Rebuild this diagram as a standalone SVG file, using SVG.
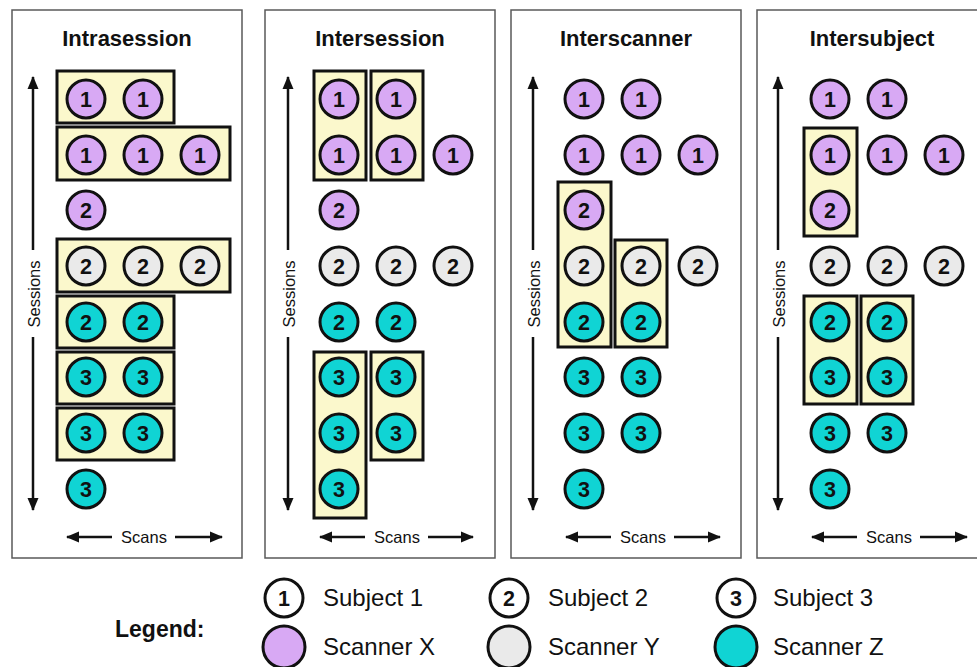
<svg xmlns="http://www.w3.org/2000/svg" width="977" height="667" viewBox="0 0 977 667">
<style>
.panel{fill:#fff;stroke:#595959;stroke-width:1.5}
.title{font-family:"Liberation Sans",Arial,sans-serif;font-weight:bold;font-size:22px;fill:#111;text-anchor:middle}
.box{fill:#FBF8CC;stroke:#111;stroke-width:3}
.c{stroke:#111;stroke-width:3}
.px{fill:#D8A9F4}
.py{fill:#EAEAEA}
.pz{fill:#10D4D4}
.pw{fill:#fff}
.n{font-family:"Liberation Sans",Arial,sans-serif;font-weight:bold;font-size:21.5px;fill:#111;text-anchor:middle}
.ax{stroke:#111;stroke-width:2.5;fill:none}
.axl{font-family:"Liberation Sans",Arial,sans-serif;font-size:16.5px;fill:#111;text-anchor:middle}
.lg{font-family:"Liberation Sans",Arial,sans-serif;font-size:24px;fill:#111}
.lgb{font-family:"Liberation Sans",Arial,sans-serif;font-weight:bold;font-size:23px;fill:#111}
</style>
<defs>
<marker id="ah" markerUnits="userSpaceOnUse" markerWidth="14" markerHeight="12" refX="12" refY="6" orient="auto">
<path d="M0,0.5 L13,6 L0,11.5 Z" fill="#111"/>
</marker>
<g id="P1"><circle r="19" class="c px"/><text y="7.5" class="n">1</text></g>
<g id="P2"><circle r="19" class="c px"/><text y="7.5" class="n">2</text></g>
<g id="G2"><circle r="19" class="c py"/><text y="7.5" class="n">2</text></g>
<g id="C2"><circle r="19" class="c pz"/><text y="7.5" class="n">2</text></g>
<g id="C3"><circle r="19" class="c pz"/><text y="7.5" class="n">3</text></g>
</defs>
<rect width="977" height="667" fill="#fff"/>

<!-- Panel 1: Intrasession -->
<g id="panel-intrasession">
<rect class="panel" x="12" y="10" width="230" height="548"/>
<text class="title" x="127" y="46">Intrasession</text>
<g id="p1-boxes">
<rect class="box" x="57" y="71" width="117" height="52"/>
<rect class="box" x="57" y="127" width="173" height="53"/>
<rect class="box" x="57" y="239" width="173" height="53"/>
<rect class="box" x="57" y="296" width="117" height="52"/>
<rect class="box" x="57" y="352" width="117" height="52"/>
<rect class="box" x="57" y="408" width="117" height="52"/>
</g>
<g id="p1-n1"><use href="#P1" x="86" y="99"/></g>
<g id="p1-n2"><use href="#P1" x="143" y="99"/></g>
<g id="p1-n3"><use href="#P1" x="86" y="155"/></g>
<g id="p1-n4"><use href="#P1" x="143" y="155"/></g>
<g id="p1-n5"><use href="#P1" x="200" y="155"/></g>
<g id="p1-n6"><use href="#P2" x="86" y="210"/></g>
<g id="p1-n7"><use href="#G2" x="86" y="266"/></g>
<g id="p1-n8"><use href="#G2" x="143" y="266"/></g>
<g id="p1-n9"><use href="#G2" x="200" y="266"/></g>
<g id="p1-n10"><use href="#C2" x="86" y="322"/></g>
<g id="p1-n11"><use href="#C2" x="143" y="322"/></g>
<g id="p1-n12"><use href="#C3" x="86" y="377"/></g>
<g id="p1-n13"><use href="#C3" x="143" y="377"/></g>
<g id="p1-n14"><use href="#C3" x="86" y="433"/></g>
<g id="p1-n15"><use href="#C3" x="143" y="433"/></g>
<g id="p1-n16"><use href="#C3" x="86" y="489"/></g>
</g>

<!-- Panel 2: Intersession -->
<g id="panel-intersession">
<rect class="panel" x="265" y="10" width="230" height="548"/>
<text class="title" x="380" y="46">Intersession</text>
<g id="p2-boxes">
<rect class="box" x="314" y="71" width="52" height="109"/>
<rect class="box" x="371" y="71" width="52" height="109"/>
<rect class="box" x="314" y="352" width="52" height="166"/>
<rect class="box" x="371" y="352" width="52" height="108"/>
</g>
<g id="p2-n1"><use href="#P1" x="339" y="99"/></g>
<g id="p2-n2"><use href="#P1" x="396" y="99"/></g>
<g id="p2-n3"><use href="#P1" x="339" y="155"/></g>
<g id="p2-n4"><use href="#P1" x="396" y="155"/></g>
<g id="p2-n5"><use href="#P1" x="453" y="155"/></g>
<g id="p2-n6"><use href="#P2" x="339" y="210"/></g>
<g id="p2-n7"><use href="#G2" x="339" y="266"/></g>
<g id="p2-n8"><use href="#G2" x="396" y="266"/></g>
<g id="p2-n9"><use href="#G2" x="453" y="266"/></g>
<g id="p2-n10"><use href="#C2" x="339" y="322"/></g>
<g id="p2-n11"><use href="#C2" x="396" y="322"/></g>
<g id="p2-n12"><use href="#C3" x="339" y="377"/></g>
<g id="p2-n13"><use href="#C3" x="396" y="377"/></g>
<g id="p2-n14"><use href="#C3" x="339" y="433"/></g>
<g id="p2-n15"><use href="#C3" x="396" y="433"/></g>
<g id="p2-n16"><use href="#C3" x="339" y="489"/></g>
</g>

<!-- Panel 3: Interscanner -->
<g id="panel-interscanner">
<rect class="panel" x="511" y="10" width="230" height="548"/>
<text class="title" x="626" y="46">Interscanner</text>
<g id="p3-boxes">
<rect class="box" x="558" y="182" width="53" height="165"/>
<rect class="box" x="615" y="240" width="52" height="107"/>
</g>
<g id="p3-n1"><use href="#P1" x="584" y="99"/></g>
<g id="p3-n2"><use href="#P1" x="641" y="99"/></g>
<g id="p3-n3"><use href="#P1" x="584" y="155"/></g>
<g id="p3-n4"><use href="#P1" x="641" y="155"/></g>
<g id="p3-n5"><use href="#P1" x="698" y="155"/></g>
<g id="p3-n6"><use href="#P2" x="584" y="210"/></g>
<g id="p3-n7"><use href="#G2" x="584" y="266"/></g>
<g id="p3-n8"><use href="#G2" x="641" y="266"/></g>
<g id="p3-n9"><use href="#G2" x="698" y="266"/></g>
<g id="p3-n10"><use href="#C2" x="584" y="322"/></g>
<g id="p3-n11"><use href="#C2" x="641" y="322"/></g>
<g id="p3-n12"><use href="#C3" x="584" y="377"/></g>
<g id="p3-n13"><use href="#C3" x="641" y="377"/></g>
<g id="p3-n14"><use href="#C3" x="584" y="433"/></g>
<g id="p3-n15"><use href="#C3" x="641" y="433"/></g>
<g id="p3-n16"><use href="#C3" x="584" y="489"/></g>
</g>

<!-- Panel 4: Intersubject -->
<g id="panel-intersubject">
<rect class="panel" x="757" y="10" width="230" height="548"/>
<text class="title" x="872" y="46">Intersubject</text>
<g id="p4-boxes">
<rect class="box" x="804" y="128" width="53" height="108"/>
<rect class="box" x="804" y="296" width="53" height="108"/>
<rect class="box" x="861" y="296" width="52" height="108"/>
</g>
<g id="p4-n1"><use href="#P1" x="830" y="99"/></g>
<g id="p4-n2"><use href="#P1" x="887" y="99"/></g>
<g id="p4-n3"><use href="#P1" x="830" y="155"/></g>
<g id="p4-n4"><use href="#P1" x="887" y="155"/></g>
<g id="p4-n5"><use href="#P1" x="944" y="155"/></g>
<g id="p4-n6"><use href="#P2" x="830" y="210"/></g>
<g id="p4-n7"><use href="#G2" x="830" y="266"/></g>
<g id="p4-n8"><use href="#G2" x="887" y="266"/></g>
<g id="p4-n9"><use href="#G2" x="944" y="266"/></g>
<g id="p4-n10"><use href="#C2" x="830" y="322"/></g>
<g id="p4-n11"><use href="#C2" x="887" y="322"/></g>
<g id="p4-n12"><use href="#C3" x="830" y="377"/></g>
<g id="p4-n13"><use href="#C3" x="887" y="377"/></g>
<g id="p4-n14"><use href="#C3" x="830" y="433"/></g>
<g id="p4-n15"><use href="#C3" x="887" y="433"/></g>
<g id="p4-n16"><use href="#C3" x="830" y="489"/></g>
</g>

<!-- Axes (connectors) -->
<g id="connectors">
<line class="ax" x1="33" y1="250" x2="33" y2="77" marker-end="url(#ah)"/>
<line class="ax" x1="33" y1="337" x2="33" y2="510" marker-end="url(#ah)"/>
<line class="ax" x1="112" y1="537" x2="67" y2="537" marker-end="url(#ah)"/>
<line class="ax" x1="175" y1="537" x2="222" y2="537" marker-end="url(#ah)"/>

<line class="ax" x1="288" y1="250" x2="288" y2="77" marker-end="url(#ah)"/>
<line class="ax" x1="288" y1="337" x2="288" y2="510" marker-end="url(#ah)"/>
<line class="ax" x1="365" y1="537" x2="320" y2="537" marker-end="url(#ah)"/>
<line class="ax" x1="428" y1="537" x2="473" y2="537" marker-end="url(#ah)"/>

<line class="ax" x1="533" y1="250" x2="533" y2="77" marker-end="url(#ah)"/>
<line class="ax" x1="533" y1="337" x2="533" y2="510" marker-end="url(#ah)"/>
<line class="ax" x1="611" y1="537" x2="566" y2="537" marker-end="url(#ah)"/>
<line class="ax" x1="674" y1="537" x2="720" y2="537" marker-end="url(#ah)"/>

<line class="ax" x1="778" y1="250" x2="778" y2="77" marker-end="url(#ah)"/>
<line class="ax" x1="778" y1="337" x2="778" y2="510" marker-end="url(#ah)"/>
<line class="ax" x1="857" y1="537" x2="812" y2="537" marker-end="url(#ah)"/>
<line class="ax" x1="920" y1="537" x2="967" y2="537" marker-end="url(#ah)"/>
</g>
<g id="axis-labels">
<text class="axl" transform="translate(40,294) rotate(-90)">Sessions</text>
<text class="axl" x="144" y="543">Scans</text>
<text class="axl" transform="translate(295,294) rotate(-90)">Sessions</text>
<text class="axl" x="397" y="543">Scans</text>
<text class="axl" transform="translate(540,294) rotate(-90)">Sessions</text>
<text class="axl" x="643" y="543">Scans</text>
<text class="axl" transform="translate(785,294) rotate(-90)">Sessions</text>
<text class="axl" x="889" y="543">Scans</text>
</g>

<!-- Legend -->
<g id="legend">
<text class="lgb" x="115" y="637">Legend:</text>
<g id="leg-s1"><circle cx="284" cy="598" r="19" class="c pw"/><text class="n" x="284" y="605.5">1</text><text class="lg" x="323" y="606">Subject 1</text></g>
<g id="leg-s2"><circle cx="509" cy="598" r="19" class="c pw"/><text class="n" x="509" y="605.5">2</text><text class="lg" x="548" y="606">Subject 2</text></g>
<g id="leg-s3"><circle cx="736" cy="598" r="19" class="c pw"/><text class="n" x="736" y="605.5">3</text><text class="lg" x="773" y="606">Subject 3</text></g>
<g id="leg-x"><circle cx="284" cy="647" r="21" class="c px"/><text class="lg" x="323" y="655">Scanner X</text></g>
<g id="leg-y"><circle cx="509" cy="647" r="21" class="c py"/><text class="lg" x="548" y="655">Scanner Y</text></g>
<g id="leg-z"><circle cx="736" cy="647" r="21" class="c pz"/><text class="lg" x="773" y="655">Scanner Z</text></g>
</g>
</svg>
